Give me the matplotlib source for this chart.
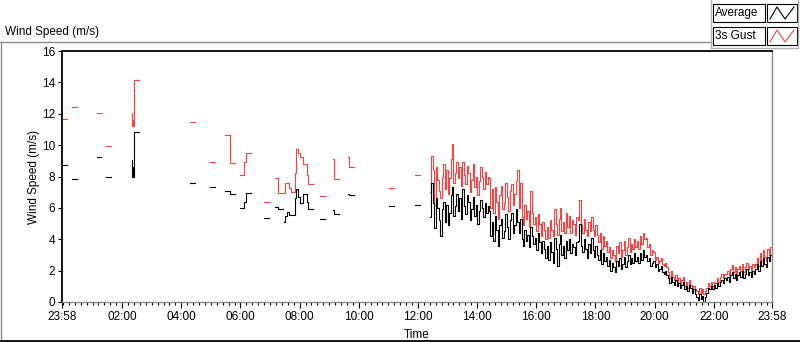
import numpy as np
import matplotlib
matplotlib.use('Agg')
import matplotlib.pyplot as plt
from matplotlib.lines import Line2D
from matplotlib.patches import Rectangle

plt.rcParams['font.family'] = ['Liberation Sans', 'DejaVu Sans']

# sparse 10 minute readings (logger dropped out a lot before noon)
sparse_time = ['23:58', '00:18', '01:08', '01:28',
               '02:19', '02:20', '02:21', '02:22', '02:24',
               '04:18', '04:58', '05:28', '05:38', '05:58', '06:08', '06:12',
               '06:48', '07:10', '07:17', '07:29', '07:31', '07:35', '07:38',
               '07:42', '07:50', '07:52', '07:57', '08:00', '08:07', '08:15',
               '08:17', '08:41', '09:08', '09:09', '09:10', '09:39', '09:40',
               '09:41', '11:01', '11:54']
sparse_avg = [8.74, 7.83, 9.23, 7.96,
              9.04, 7.95, 8.6, 8.0, 10.83,
              7.59, 7.32, 7.08, 6.89, 5.98, 6.4, 6.96,
              5.34, 6.08, 5.92, 5.09, 5.49, 5.76, 5.55,
              5.55, 6.66, 7.19, 6.72, 6.34, 6.87, 6.4,
              5.92, 5.28, 5.87, 5.7, 5.6, 6.87, 6.81,
              6.81, 6.11, 6.17]
sparse_gust = [11.66, 12.42, 12.04, 9.96,
               12.04, 11.2, 11.6, 11.2, 14.15,
               11.47, 8.91, 10.64, 8.85, 8.08, 8.9, 9.49,
               6.36, 7.89, 6.94, 6.94, 7.57, 7.57, 7.26,
               7.0, 8.21, 9.74, 9.49, 9.23, 8.79, 8.1,
               7.53, 6.76, 9.13, 8.42, 7.83, 9.23, 8.89,
               8.6, 7.26, 8.08]

# continuous record from 12:24, one value every 3 minutes (one row per hour)
dense_start = '12:24'
dense_step = 3
dense_avg = [
    5.4, 7.6, 6.3, 4.7, 6.6, 6.0, 5.2, 4.2, 5.9, 6.4, 5.1, 6.2, 4.9, 5.7, 6.8, 7.3, 5.5, 6.1, 6.9, 5.8,
    6.6, 5.3, 7.2, 6.1, 5.6, 6.8, 6.4, 5.2, 5.9, 6.7, 5.5, 6.2, 5.0, 5.8, 6.5, 6.0, 5.4, 6.3, 5.7, 6.1,
    5.8, 4.2, 5.1, 3.9, 5.5, 4.6, 3.6, 4.9, 5.3, 4.1, 4.5, 5.6, 4.8, 4.0, 5.2, 5.7, 4.4, 4.9, 5.9, 5.1,
    4.4, 5.3, 4.0, 3.6, 4.6, 3.9, 4.3, 3.5, 4.8, 4.2, 3.7, 4.1, 3.3, 4.4, 3.8, 3.1, 3.9, 3.4, 2.8, 3.6,
    2.7, 3.8, 3.2, 2.5, 4.1, 3.4, 2.3, 3.7, 4.3, 3.0, 3.6, 2.8, 3.9, 3.3, 4.0, 3.1, 3.7, 3.5, 3.0, 3.8,
    3.9, 5.0, 3.6, 3.2, 4.0, 3.4, 2.8, 3.7, 3.1, 4.1, 3.3, 2.9, 3.6, 3.0, 2.7, 3.3, 2.4, 3.1, 2.6, 2.9,
    2.3, 2.7, 2.0, 2.5, 2.2, 1.9, 2.6, 2.3, 2.8, 2.1, 2.4, 2.9, 2.2, 2.6, 3.0, 2.4, 2.8, 2.5, 3.1, 2.6,
    2.9, 2.5, 3.1, 2.7, 3.3, 2.9, 3.0, 2.6, 2.8, 2.3, 2.5, 2.6, 2.2, 2.4, 2.0, 2.1, 2.3, 1.9, 1.8, 2.0,
    1.7, 1.5, 1.2, 1.6, 1.3, 1.1, 1.4, 1.0, 1.2, 0.9, 1.1, 1.3, 0.8, 1.0, 0.7, 1.1, 0.9, 0.6, 0.8, 0.5,
    0.3, 0.1, 0.5, 0.2, 0.4, 0.0, 0.3, 0.6, 0.9, 0.8, 1.0, 0.8, 1.1, 0.9, 1.2, 1.0, 1.3, 1.4, 1.2, 1.5,
    1.4, 1.6, 1.3, 1.7, 1.9, 1.5, 1.8, 1.4, 1.7, 1.9, 1.6, 2.0, 1.5, 1.8, 2.1, 1.7, 1.9, 1.6, 2.0, 1.8,
    2.1, 2.4, 2.0, 2.6, 2.3, 2.8, 2.4, 2.2, 2.9, 2.6, 3.0, 3.2,
]
dense_gust = [
    7.0, 9.3, 8.4, 6.2, 8.6, 7.8, 7.1, 6.6, 8.0, 8.8, 7.2, 8.4, 6.9, 7.9, 9.1, 10.1, 7.6, 8.2, 8.9, 7.9,
    8.6, 7.4, 8.9, 8.1, 7.5, 8.7, 8.2, 7.0, 7.8, 8.8, 7.3, 8.0, 6.8, 7.7, 8.6, 8.0, 7.2, 8.3, 7.5, 8.0,
    7.9, 6.0, 7.2, 5.7, 7.3, 6.4, 5.3, 6.8, 7.4, 5.9, 6.3, 7.6, 6.7, 5.8, 7.1, 7.5, 6.2, 6.9, 7.7, 8.4,
    6.0, 7.6, 5.4, 4.9, 6.2, 5.3, 5.8, 4.8, 7.1, 5.7, 5.0, 5.4, 4.5, 5.6, 5.0, 4.2, 5.1, 4.6, 4.0, 4.8,
    4.1, 5.2, 4.6, 4.2, 5.9, 5.0, 4.3, 5.3, 6.0, 4.5, 5.1, 4.4, 5.7, 4.8, 5.5, 4.4, 5.2, 5.0, 4.3, 5.4,
    5.2, 6.5, 4.9, 4.4, 5.3, 4.6, 4.2, 5.1, 4.5, 5.4, 4.6, 4.2, 4.9, 4.3, 3.8, 4.4, 3.4, 4.2, 3.6, 3.9,
    3.2, 3.5, 2.8, 3.3, 3.0, 2.6, 3.6, 3.1, 3.8, 2.9, 3.3, 3.9, 3.0, 3.5, 4.1, 3.2, 3.7, 3.4, 4.0, 3.5,
    3.9, 3.4, 4.2, 3.7, 4.4, 4.0, 4.1, 3.5, 3.7, 3.0, 3.3, 3.2, 2.7, 2.9, 2.5, 2.6, 2.8, 2.4, 2.3, 2.5,
    2.2, 1.9, 1.5, 2.0, 1.6, 1.4, 1.7, 1.2, 1.5, 1.1, 1.4, 1.6, 1.0, 1.3, 0.9, 1.4, 1.1, 0.9, 1.0, 0.8,
    0.7, 0.5, 0.9, 0.6, 0.8, 0.5, 0.7, 0.9, 1.2, 1.0, 1.3, 1.0, 1.3, 1.2, 1.5, 1.3, 1.6, 1.8, 1.5, 1.8,
    1.8, 2.0, 1.7, 2.1, 2.35, 1.9, 2.2, 1.8, 2.1, 2.3, 2.0, 2.4, 1.9, 2.2, 2.5, 2.1, 2.3, 2.0, 2.4, 2.2,
    2.4, 2.8, 2.3, 3.1, 2.7, 3.3, 2.9, 2.6, 3.4, 3.0, 3.5, 3.6,
]

tick_labels = ['23:58', '02:00', '04:00', '06:00', '08:00', '10:00', '12:00',
               '14:00', '16:00', '18:00', '20:00', '22:00', '23:58']


def to_min(s, wrap=False):
    h, m = map(int, s.split(':'))
    v = h * 60 + m
    if wrap and v > 1200:
        v -= 1440  # previous day
    return v


def hold_series(times, values, hold=10):
    # LabVIEW style "hold" plot: each value is held until the next sample,
    # a gap longer than one sample period breaks the line
    xs, ys = [], []
    for i, (t, v) in enumerate(zip(times, values)):
        xs.append(t)
        ys.append(v)
        if i + 1 == len(times) or times[i + 1] - t > hold:
            xs += [t + hold, t + hold]
            ys += [v, np.nan]
    return np.array(xs, float), np.array(ys, float)


t_sparse = [to_min(s, wrap=True) for s in sparse_time]
t0 = to_min(dense_start)
t_dense = [t0 + dense_step * i for i in range(len(dense_avg))]

xa1, ya1 = hold_series(t_sparse, sparse_avg)
xg1, yg1 = hold_series(t_sparse, sparse_gust)
xa2, ya2 = hold_series(t_dense, dense_avg, hold=dense_step)
xg2, yg2 = hold_series(t_dense, dense_gust, hold=dense_step)

x_avg = np.concatenate([xa1, xa2])
y_avg = np.concatenate([ya1, ya2])
x_gust = np.concatenate([xg1, xg2])
y_gust = np.concatenate([yg1, yg2])

W, H = 800, 342
fig = plt.figure(figsize=(W / 100, H / 100), dpi=100)
ax = fig.add_axes([62 / W, 1 - 302 / H, 710 / W, 251 / H])

red = '#ff4040'
ax.plot(x_gust, y_gust, drawstyle='steps-post', color=red, lw=0.8)
ax.plot(x_avg, y_avg, drawstyle='steps-post', color='black', lw=0.8)

start = to_min('23:58', wrap=True)
end = start + 1440
ax.set_xlim(start, end)
ax.set_ylim(0, 16)

major = [start] + [to_min(s) for s in tick_labels[1:-1]] + [end]
ax.set_xticks(major, tick_labels)
ax.set_xticks(np.arange(0, end, 12), minor=True)
ax.set_yticks(np.arange(0, 17, 2))
ax.tick_params(axis='x', which='major', length=4.5, width=0.8, labelsize=8.5, pad=2)
ax.tick_params(axis='x', which='minor', length=2.5, width=0.8)
ax.tick_params(axis='y', length=3, width=0.8, labelsize=8.5, pad=2)

for side in ['top', 'left']:
    ax.spines[side].set_color('black')
    ax.spines[side].set_linewidth(1.3)
for side in ['bottom', 'right']:
    ax.spines[side].set_color('#8a8a8a')
    ax.spines[side].set_linewidth(1.0)

ax.set_xlabel('Time', fontsize=8.5, labelpad=4.5)
ax.set_ylabel('Wind Speed (m/s)', fontsize=8.5, labelpad=1)

# panel title and frame
fig.text(5 / W, 1 - 32 / H, 'Wind Speed (m/s)', fontsize=8.5, va='center', ha='left')


def fline(xs, ys, color, lw=1.0):
    fig.add_artist(Line2D([x / W for x in xs], [1 - y / H for y in ys],
                          transform=fig.transFigure, color=color, lw=lw))


fline([0, 711], [42, 42], '#8a8a8a')
fline([0.5, 0.5], [42, 341], '#8a8a8a')
fline([0, 800], [341, 341], 'black', 1.3)
fline([711, 711, 798, 798], [0, 48, 48, 0], '#b0b0b0')

# legend
for row, (name, col) in enumerate([('Average', 'black'), ('3s Gust', red)]):
    top = 4 + row * 23
    fig.add_artist(Rectangle((713 / W, 1 - (top + 18) / H), 52 / W, 18 / H,
                             transform=fig.transFigure, facecolor='white',
                             edgecolor='black', lw=0.8))
    fig.text(715 / W, 1 - (top + 9) / H, name, fontsize=8.5, va='center', ha='left')
    fig.add_artist(Rectangle((767 / W, 1 - (top + 18) / H), 30 / W, 18 / H,
                             transform=fig.transFigure, facecolor='white',
                             edgecolor='black', lw=0.8))
    fline([770, 777, 785, 794], [top + 15, top + 3, top + 15, top + 3], col, 0.8)

fig.savefig('out.png', dpi=100)
